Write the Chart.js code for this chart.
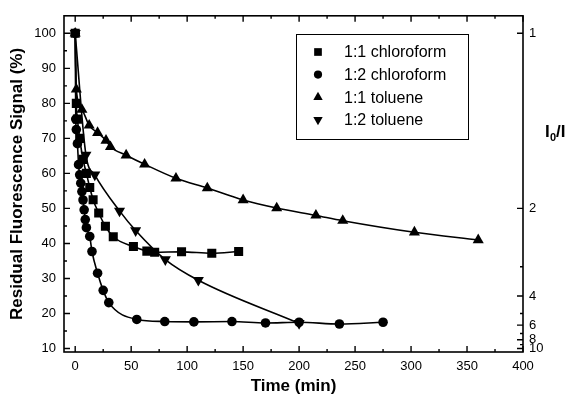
<!DOCTYPE html>
<html>
<head>
<meta charset="utf-8">
<script src="https://cdn.jsdelivr.net/npm/chart.js@4.4.0/dist/chart.umd.min.js"></script>
<style>
  html, body { margin: 0; padding: 0; background: #fff; }
  #chartDiv { position: relative; width: 565px; height: 403px; }
</style>
</head>
<body>
<div id="chartDiv"><canvas id="myChart"></canvas></div>
<script>

// series names and marker shapes
const seriesNames = ['1:1 chloroform', '1:2 chloroform', '1:1 toluene', '1:2 toluene'];
const markerShapes = ['rect', 'circle', 'triangle', 'triangle'];
const markerTurns = [0, 0, 0, 180];

// values: time (min) / residual signal (%)
const timeChl11 = [0, 1, 2, 4, 7, 10, 13, 16, 21, 27, 34, 52, 64, 71, 95, 122, 146];
const sigChl11  = [100, 80, 75.5, 70, 64, 60, 56, 52.5, 48.7, 44.9, 41.9, 39.1, 37.8, 37.5, 37.6, 37.2, 37.7];

const timeChl12 = [0, 0.5, 1, 2, 3, 4, 5, 6, 7, 8, 9, 10, 13, 15, 20, 25, 30, 55, 80, 106, 140, 170, 200, 236, 275];
const sigChl12  = [100, 75.5, 72.5, 68.5, 62.5, 59.6, 57.2, 54.8, 52.4, 49.6, 46.8, 44.5, 42, 37.7, 31.5, 26.6, 23.1, 18.3, 17.7, 17.6, 17.7, 17.3, 17.5, 17, 17.5];

const timeTol11 = [0, 1, 6, 12.5, 20, 27.5, 31.5, 45.5, 62, 90, 118, 150, 180, 215, 239, 303, 360];
const sigTol11  = [100, 84, 78.2, 73.7, 71.6, 69.4, 67.6, 65.2, 62.6, 58.6, 55.8, 52.4, 50.1, 48, 46.5, 43.2, 41];

const timeTol12 = [0, 9.6, 17.5, 39.6, 54, 80.5, 110, 200];
const sigTol12  = [100, 65.3, 59.6, 49.3, 43.7, 35.4, 29.5, 17.2];

// axis ticks
const timeTicks = [0, 25, 50, 75, 100, 125, 150, 175, 200, 225, 250, 275, 300, 325, 350, 375, 400];
const signalTicks = [10, 15, 20, 25, 30, 35, 40, 45, 50, 55, 60, 65, 70, 75, 80, 85, 90, 95, 100];
const ratioTicks = [1, 2, 3, 4, 5, 6, 7, 8, 9, 10];
const ratioLabels = [1, 2, 4, 6, 8, 10];

const times = [timeChl11, timeChl12, timeTol11, timeTol12];
const signals = [sigChl11, sigChl12, sigTol11, sigTol12];
const radii = [6.4, 4.8, 6.4, 6.4];

var ctx = document.getElementById('myChart');

function pairUp(xs, ys) {
  return xs.map((x, i) => ({x: x, y: ys[i]}));
}

var data = seriesNames.map((name, i) => ({
  label: name,
  data: pairUp(times[i], signals[i]),
  borderColor: '#000',
  backgroundColor: '#000',
  borderWidth: 1.6,
  pointStyle: markerShapes[i],
  pointRotation: markerTurns[i],
  pointRadius: radii[i],
  pointBorderWidth: 0,
  pointBackgroundColor: '#000',
  cubicInterpolationMode: 'monotone'
}));

// ticks drawn inward, frame, legend box and the right-hand title
const framePlugin = {
  id: 'frame',
  afterDraw(chart) {
    const c = chart.ctx;
    const a = chart.chartArea;
    c.save();
    c.strokeStyle = '#000';
    c.lineWidth = 1.6;
    c.strokeRect(a.left, a.top, a.right - a.left, a.bottom - a.top);

    c.lineWidth = 1.4;
    c.beginPath();
    chart.scales.x.ticks.forEach(t => {
      const px = chart.scales.x.getPixelForValue(t.value);
      const len = t.value % 50 === 0 ? 6 : 3;
      c.moveTo(px, a.bottom); c.lineTo(px, a.bottom - len);
      c.moveTo(px, a.top); c.lineTo(px, a.top + len);
    });
    chart.scales.y.ticks.forEach(t => {
      const py = chart.scales.y.getPixelForValue(t.value);
      const len = t.value % 10 === 0 ? 6 : 3;
      c.moveTo(a.left, py); c.lineTo(a.left + len, py);
    });
    chart.scales.y2.ticks.forEach(t => {
      const py = chart.scales.y2.getPixelForValue(t.value);
      const r = Math.round(100 / t.value);
      const len = ratioLabels.includes(r) ? 6 : 3;
      c.moveTo(a.right, py); c.lineTo(a.right - len, py);
    });
    c.stroke();

    // legend
    c.lineWidth = 1;
    c.strokeRect(296.5, 34.5, 172, 105);
    c.font = '16px "Liberation Sans", Arial, sans-serif';
    c.textBaseline = 'middle';
    c.fillStyle = '#000';
    seriesNames.forEach((name, i) => {
      const y = 52 + i * 22.6;
      Chart.helpers.drawPoint(c, {pointStyle: markerShapes[i], radius: radii[i] * 0.85, rotation: markerTurns[i], borderWidth: 0}, 318, y);
      c.fillStyle = '#000';
      c.fillText(name, 344, y + 1);
    });

    // I0/I
    c.font = 'bold 17px "Liberation Sans", Arial, sans-serif';
    c.textBaseline = 'alphabetic';
    c.fillText('I', 545, 137);
    c.font = 'bold 11px "Liberation Sans", Arial, sans-serif';
    c.fillText('0', 550, 141);
    c.font = 'bold 17px "Liberation Sans", Arial, sans-serif';
    c.fillText('/I', 556, 137);
    c.restore();
  }
};

const tickFont = {family: '"Liberation Sans", Arial, sans-serif', size: 13};
const titleFont = {family: '"Liberation Sans", Arial, sans-serif', size: 17, weight: 'bold'};

var options = {
  responsive: true,
  maintainAspectRatio: false,
  animation: false,
  layout: {padding: {top: 14, right: 0, left: 0, bottom: 0}},
  plugins: {legend: {display: false}, tooltip: {enabled: false}},
  scales: {
    x: {
      type: 'linear', min: -10, max: 400,
      grid: {display: false, drawTicks: false},
      border: {display: false},
      afterBuildTicks: s => { s.ticks = timeTicks.map(v => ({value: v})); },
      afterFit: s => { s.height = 51; },
      ticks: {
        autoSkip: false, maxRotation: 0, padding: 7, color: '#000', font: tickFont,
        callback: v => (v % 50 === 0 ? String(v) : '')
      },
      title: {display: true, text: 'Time (min)', color: '#000', font: titleFont, padding: {top: 0, bottom: 6}}
    },
    y: {
      type: 'linear', position: 'left', min: 9, max: 105,
      grid: {display: false, drawTicks: false},
      border: {display: false},
      afterBuildTicks: s => { s.ticks = signalTicks.map(v => ({value: v})); },
      afterFit: s => { s.width = 64; },
      ticks: {
        autoSkip: false, padding: 8, color: '#000', font: tickFont,
        callback: v => (v % 10 === 0 ? String(v) : '')
      },
      title: {display: true, text: 'Residual Fluorescence Signal (%)', color: '#000', font: titleFont, padding: {top: 7, bottom: 0}}
    },
    y2: {
      type: 'linear', position: 'right', min: 9, max: 105,
      grid: {display: false, drawTicks: false},
      border: {display: false},
      afterBuildTicks: s => { s.ticks = ratioTicks.map(r => ({value: 100 / r})); },
      afterFit: s => { s.width = 42; },
      ticks: {
        autoSkip: false, padding: 6, color: '#000', font: tickFont,
        callback: v => {
          const r = Math.round(100 / v);
          return ratioLabels.includes(r) ? String(r) : '';
        }
      }
    }
  }
};

var StockChart = new Chart(ctx, {
  type: 'line',
  data: {datasets: data},
  options: options,
  plugins: [framePlugin]
});
</script>
</body>
</html>
